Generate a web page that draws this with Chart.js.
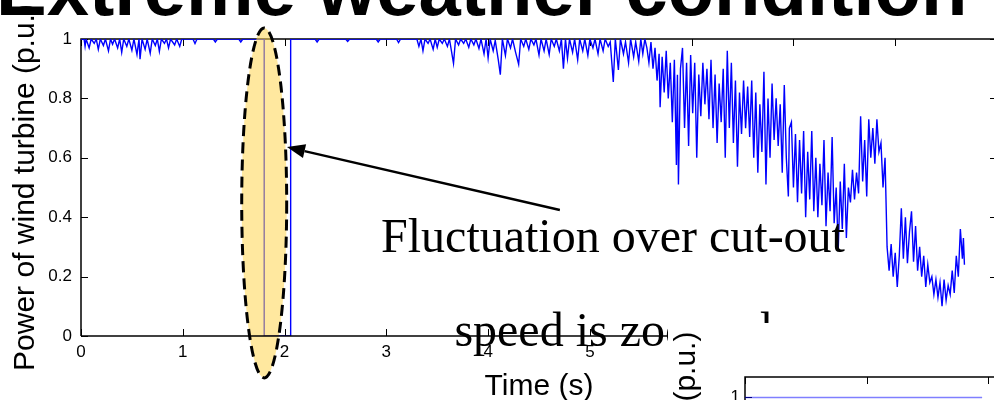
<!DOCTYPE html>
<html>
<head>
<meta charset="utf-8">
<script src="https://cdn.jsdelivr.net/npm/chart.js@4.4.1/dist/chart.umd.min.js"></script>
<style>
  html, body { margin: 0; padding: 0; background: #fff; }
  body { width: 994px; height: 400px; overflow: hidden; position: relative; }
  #mainBox { position: absolute; left: 0; top: 0; width: 1010px; height: 420px; }
  #insetBox { position: absolute; left: 668px; top: 323px; width: 400px; height: 400px; background: #fff; }
  .headline { position: absolute; left: -4px; top: -49px; white-space: nowrap; color: #000;
              font: bold 76px/1 "Liberation Sans", Arial, sans-serif; }
  .note { position: absolute; left: 313px; width: 600px; text-align: center; white-space: nowrap; color: #000;
          font: 48px/1 "Liberation Serif", "Times New Roman", serif; }
</style>
</head>
<body>
<div class="headline">Extreme weather condition</div>
<div id="mainBox"><canvas id="mainChart"></canvas></div>
<div class="note" style="top:212px">Fluctuation over cut-out</div>
<div class="note" style="top:306px">speed is zoomed</div>
<div id="insetBox"><canvas id="insetChart"></canvas></div>
<script>
// Wind turbine output power (p.u.) against time (s), as [time, power] samples.

// Rated output with short dips from gusts
const gustPhase = [
  [0, 1], [0.03, 1], [0.04, 0.975], [0.05, 1], [0.08, 0.97], [0.1, 1], [0.13, 0.985], [0.15, 1],
  [0.17, 0.965], [0.19, 1], [0.22, 0.978], [0.24, 1], [0.27, 0.96], [0.29, 1], [0.31, 0.982], [0.33, 1],
  [0.36, 0.97], [0.38, 1], [0.4, 0.955], [0.42, 1], [0.45, 0.975], [0.47, 1], [0.5, 0.962], [0.52, 1],
  [0.55, 0.948], [0.57, 1], [0.58, 0.932], [0.6, 1], [0.63, 0.965], [0.65, 1], [0.68, 0.952], [0.7, 1],
  [0.73, 0.978], [0.75, 1], [0.77, 0.958], [0.79, 1], [0.82, 0.985], [0.84, 1], [0.86, 0.97], [0.88, 1],
  [0.92, 0.98], [0.94, 1], [0.97, 0.975], [0.99, 1], [1.1, 1], [1.12, 0.985], [1.14, 1], [1.3, 1],
  [1.32, 0.99], [1.34, 1], [1.55, 1], [1.57, 0.99], [1.59, 1], [1.8, 1]
];

// Shutdown above cut-out speed and restart
const tripPhase = [[1.8, 1], [1.8, 0], [2.06, 0], [2.06, 1]];

// Back at rated output
const recoveryPhase = [
  [2.06, 1], [2.3, 1], [2.32, 0.99], [2.34, 1], [2.6, 1], [2.62, 0.992], [2.64, 1], [2.9, 1],
  [2.92, 0.99], [2.94, 1], [3.1, 1], [3.12, 0.988], [3.14, 1], [3.3, 1]
];

// Dips grow deeper as the wind picks up
const buildUpPhase = [
  [3.32, 0.975], [3.34, 1], [3.36, 0.96], [3.38, 1], [3.41, 0.985], [3.43, 1], [3.46, 0.965], [3.48, 1],
  [3.5, 0.972], [3.52, 1], [3.55, 0.985], [3.57, 1], [3.6, 0.975], [3.62, 1], [3.66, 0.918], [3.68, 1],
  [3.71, 0.98], [3.73, 1], [3.76, 0.985], [3.78, 1], [3.81, 0.972], [3.83, 1], [3.86, 0.98], [3.88, 1],
  [3.91, 0.968], [3.93, 1], [3.96, 0.95], [3.98, 1], [4.0, 0.936], [4.02, 1], [4.05, 0.96], [4.07, 0.995],
  [4.1, 0.93], [4.12, 0.88], [4.14, 1], [4.17, 0.945], [4.19, 1], [4.22, 0.97], [4.24, 1], [4.27, 0.955],
  [4.3, 0.915], [4.32, 1], [4.35, 0.975], [4.37, 1], [4.4, 0.965], [4.42, 1], [4.45, 0.98], [4.47, 1],
  [4.5, 0.946], [4.52, 1], [4.55, 0.96], [4.57, 1], [4.6, 0.948], [4.62, 1], [4.65, 0.975], [4.67, 1],
  [4.7, 0.96], [4.72, 1], [4.74, 0.9], [4.76, 1], [4.78, 0.935], [4.8, 1], [4.83, 0.955], [4.85, 1],
  [4.88, 0.93], [4.9, 1], [4.93, 0.96], [4.95, 1], [4.98, 0.945], [5.0, 1], [5.03, 0.97], [5.05, 1],
  [5.08, 0.95], [5.1, 1], [5.13, 0.96], [5.15, 1], [5.18, 0.975], [5.2, 0.99], [5.23, 0.855], [5.25, 1],
  [5.28, 0.896], [5.3, 1], [5.33, 0.95], [5.35, 0.99], [5.38, 0.92], [5.4, 1], [5.43, 0.94], [5.45, 0.99],
  [5.48, 0.925], [5.5, 1], [5.52, 0.95], [5.54, 1]
];

// Strongly fluctuating, falling output
const declinePhase = [
  [5.56, 0.97], [5.58, 0.92], [5.6, 0.99], [5.62, 0.9], [5.64, 0.97], [5.66, 0.86], [5.68, 0.95], [5.69, 0.77],
  [5.71, 0.94], [5.73, 0.82], [5.75, 0.96], [5.77, 0.8], [5.79, 0.92], [5.81, 0.72], [5.83, 0.93], [5.85, 0.576],
  [5.86, 0.88], [5.87, 0.51], [5.89, 0.9], [5.91, 0.97], [5.93, 0.7], [5.95, 0.92], [5.97, 0.64], [5.99, 0.946],
  [6.01, 0.75], [6.03, 0.92], [6.05, 0.6], [6.07, 0.88], [6.09, 0.74], [6.11, 0.92], [6.13, 0.78], [6.15, 0.9],
  [6.17, 0.73], [6.19, 0.93], [6.21, 0.7], [6.23, 0.88], [6.25, 0.65], [6.27, 0.85], [6.29, 0.72], [6.31, 0.9],
  [6.33, 0.6], [6.35, 0.96], [6.37, 0.7], [6.39, 0.92], [6.41, 0.65], [6.43, 0.86], [6.45, 0.57], [6.47, 0.82],
  [6.49, 0.68], [6.51, 0.86], [6.53, 0.7], [6.55, 0.84], [6.57, 0.67], [6.59, 0.86], [6.61, 0.6], [6.63, 0.82],
  [6.65, 0.55], [6.67, 0.78], [6.69, 0.62], [6.71, 0.89], [6.73, 0.51], [6.75, 0.8], [6.77, 0.6], [6.79, 0.85],
  [6.81, 0.66], [6.83, 0.8], [6.85, 0.64], [6.87, 0.78], [6.89, 0.55], [6.91, 0.845], [6.93, 0.6], [6.95, 0.47],
  [6.96, 0.7], [6.98, 0.72], [7.0, 0.5], [7.02, 0.68], [7.04, 0.45], [7.06, 0.66], [7.08, 0.48], [7.1, 0.69],
  [7.12, 0.4], [7.14, 0.62], [7.16, 0.46], [7.18, 0.69], [7.2, 0.42], [7.22, 0.6], [7.24, 0.4], [7.26, 0.58],
  [7.28, 0.44], [7.3, 0.66], [7.32, 0.37], [7.34, 0.55], [7.36, 0.42], [7.38, 0.67], [7.4, 0.38], [7.42, 0.5],
  [7.44, 0.29], [7.46, 0.52], [7.48, 0.36], [7.5, 0.58], [7.52, 0.33], [7.54, 0.5], [7.56, 0.45], [7.58, 0.56],
  [7.6, 0.46], [7.62, 0.55], [7.64, 0.48], [7.66, 0.74], [7.68, 0.52], [7.7, 0.66], [7.72, 0.47], [7.74, 0.73],
  [7.76, 0.6], [7.78, 0.7], [7.8, 0.58], [7.82, 0.73], [7.84, 0.62], [7.86, 0.65], [7.88, 0.5], [7.9, 0.6],
  [7.92, 0.3], [7.94, 0.22], [7.96, 0.31], [7.98, 0.2], [8.0, 0.28], [8.02, 0.165], [8.04, 0.27], [8.06, 0.43],
  [8.08, 0.26], [8.1, 0.4], [8.12, 0.245], [8.14, 0.35], [8.16, 0.42], [8.18, 0.25], [8.2, 0.37], [8.22, 0.22],
  [8.24, 0.3], [8.26, 0.2], [8.28, 0.27], [8.3, 0.165], [8.32, 0.24], [8.34, 0.18], [8.36, 0.2], [8.38, 0.14],
  [8.4, 0.19], [8.42, 0.13], [8.44, 0.18], [8.46, 0.1], [8.48, 0.19], [8.5, 0.12], [8.52, 0.17], [8.54, 0.14],
  [8.56, 0.22], [8.58, 0.145], [8.6, 0.27], [8.62, 0.2], [8.64, 0.36], [8.66, 0.26], [8.67, 0.33], [8.68, 0.24]
];

// Zoomed view: output held at rated power
const zoomedTime = [0, 1.95];
const zoomedPower = [1, 1];

const axisTitle = 'Power of wind turbine (p.u.)';
const timeTitle = 'Time (s)';

// Callout around the cut-out event, placed in axis units
const ellipseCentre = { t: 1.8, p: 0.448 };
const ellipseHalfSpan = { t: 0.221, p: 0.589 };
const arrowTail = { t: 4.705, p: 0.424 };
const arrowTip = { t: 2.024, p: 0.636 };

const toPoints = pairs => pairs.map(([t, p]) => ({ x: t, y: p }));
const powerSeries = toPoints([
  ...gustPhase, ...tripPhase, ...recoveryPhase, ...buildUpPhase, ...declinePhase
]);

const SANS = '"Liberation Sans", Arial, sans-serif';
// MATLAB-like tick text: 1 rather than 1.0
const plainNumber = v => String(Math.round(v * 100) / 100);

// MATLAB-style frame: full box with inward ticks on all four sides
const matlabBox = {
  id: 'matlabBox',
  beforeDatasetsDraw(chart) {
    const { ctx, chartArea: a, scales: { x, y } } = chart;
    const len = 7;
    ctx.save();
    ctx.strokeStyle = '#000';
    ctx.lineWidth = 1;
    ctx.beginPath();
    x.ticks.forEach(t => {
      const px = Math.round(x.getPixelForValue(t.value)) + 0.5;
      ctx.moveTo(px, a.bottom); ctx.lineTo(px, a.bottom - len);
      ctx.moveTo(px, a.top); ctx.lineTo(px, a.top + len);
    });
    y.ticks.forEach(t => {
      const py = Math.round(y.getPixelForValue(t.value)) + 0.5;
      ctx.moveTo(a.left, py); ctx.lineTo(a.left + len, py);
      ctx.moveTo(a.right, py); ctx.lineTo(a.right - len, py);
    });
    ctx.stroke();
    ctx.lineWidth = 1.5;
    ctx.beginPath();
    ctx.moveTo(a.left, a.bottom);
    ctx.lineTo(a.left, a.top);
    ctx.lineTo(a.right, a.top);
    ctx.lineTo(a.right, a.bottom);
    ctx.stroke();
    ctx.restore();
  },
  afterDatasetsDraw(chart) {
    const { ctx, chartArea: a } = chart;
    ctx.save();
    ctx.strokeStyle = '#000';
    ctx.lineWidth = 1.5;
    ctx.beginPath();
    ctx.moveTo(a.left, a.bottom);
    ctx.lineTo(a.right, a.bottom);
    ctx.stroke();
    ctx.restore();
  }
};

// Highlight ellipse and arrow pointing at it
function ellipsePath(chart) {
  const { ctx, scales: { x, y } } = chart;
  const cx = x.getPixelForValue(ellipseCentre.t);
  const cy = y.getPixelForValue(ellipseCentre.p);
  const rx = x.getPixelForValue(ellipseCentre.t + ellipseHalfSpan.t) - cx;
  const ry = cy - y.getPixelForValue(ellipseCentre.p + ellipseHalfSpan.p);
  ctx.beginPath();
  ctx.ellipse(cx, cy, rx, ry, 0, 0, Math.PI * 2);
}
const callout = {
  id: 'callout',
  afterDatasetsDraw(chart) {
    const { ctx } = chart;
    ctx.save();
    ellipsePath(chart);
    ctx.fillStyle = 'rgba(255, 214, 80, 0.55)';
    ctx.fill();
    ctx.restore();
  },
  afterDraw(chart) {
    const { ctx, scales: { x, y } } = chart;
    ctx.save();
    ellipsePath(chart);
    ctx.setLineDash([11, 6]);
    ctx.lineWidth = 3;
    ctx.strokeStyle = '#000';
    ctx.stroke();
    ctx.setLineDash([]);

    const tx = x.getPixelForValue(arrowTail.t), ty = y.getPixelForValue(arrowTail.p);
    const hx = x.getPixelForValue(arrowTip.t), hy = y.getPixelForValue(arrowTip.p);
    const ang = Math.atan2(hy - ty, hx - tx);
    const head = 18, half = 7;
    const bx = hx - head * Math.cos(ang), by = hy - head * Math.sin(ang);
    ctx.lineWidth = 2.5;
    ctx.beginPath();
    ctx.moveTo(tx, ty);
    ctx.lineTo(bx, by);
    ctx.stroke();
    ctx.fillStyle = '#000';
    ctx.beginPath();
    ctx.moveTo(hx, hy);
    ctx.lineTo(bx + half * Math.sin(ang), by - half * Math.cos(ang));
    ctx.lineTo(bx - half * Math.sin(ang), by + half * Math.cos(ang));
    ctx.closePath();
    ctx.fill();
    ctx.restore();
  }
};

new Chart(document.getElementById('mainChart'), {
  type: 'line',
  data: {
    datasets: [{
      data: powerSeries,
      borderColor: '#0000ff',
      borderWidth: 1.4,
      pointRadius: 0,
      tension: 0,
      fill: false
    }]
  },
  options: {
    responsive: true,
    maintainAspectRatio: false,
    animation: false,
    events: [],
    layout: { padding: { top: 39, right: 13, bottom: 0, left: 0 } },
    plugins: { legend: { display: false }, tooltip: { enabled: false } },
    scales: {
      x: {
        type: 'linear', min: 0, max: 9,
        grid: { display: false, drawTicks: false, tickLength: 0 },
        border: { display: false },
        ticks: { stepSize: 1, padding: 6, color: '#000', font: { family: SANS, size: 17 }, callback: plainNumber },
        title: { display: true, text: timeTitle, color: '#000', font: { family: SANS, size: 30 },
                 padding: { top: 0, bottom: 15 } },
        afterFit(scale) { scale.height = 84; }
      },
      y: {
        type: 'linear', min: 0, max: 1,
        grid: { display: false, drawTicks: false, tickLength: 0 },
        border: { display: false },
        ticks: { stepSize: 0.2, padding: 9, color: '#000', font: { family: SANS, size: 17 }, callback: plainNumber },
        title: { display: true, text: axisTitle, color: '#000', font: { family: SANS, size: 30 },
                 padding: { top: 8, bottom: 0 } },
        afterFit(scale) { scale.width = 81; }
      }
    }
  },
  plugins: [callout, matlabBox]
});

new Chart(document.getElementById('insetChart'), {
  type: 'line',
  data: {
    datasets: [{
      data: zoomedTime.map((t, i) => ({ x: t, y: zoomedPower[i] })),
      borderColor: 'rgba(0, 0, 255, 0.5)',
      borderWidth: 1.5,
      pointRadius: 0,
      tension: 0,
      fill: false
    }]
  },
  options: {
    responsive: true,
    maintainAspectRatio: false,
    animation: false,
    events: [],
    layout: { padding: { top: 54, right: 19, bottom: 0, left: 0 } },
    plugins: { legend: { display: false }, tooltip: { enabled: false } },
    scales: {
      x: {
        type: 'linear', min: 0, max: 2.5,
        grid: { display: false, drawTicks: false, tickLength: 0 },
        border: { display: false },
        ticks: { stepSize: 1, padding: 6, color: '#000', font: { family: SANS, size: 17 }, callback: plainNumber },
        title: { display: true, text: timeTitle, color: '#000', font: { family: SANS, size: 30 } },
        afterFit(scale) { scale.height = 70; }
      },
      y: {
        type: 'linear', min: 0, max: 1.08,
        grid: { display: false, drawTicks: false, tickLength: 0 },
        border: { display: false },
        ticks: { stepSize: 0.2, padding: 5, color: '#000', font: { family: SANS, size: 17 }, callback: plainNumber },
        afterBuildTicks(scale) {
          scale.ticks = scale.ticks.filter(t => Math.abs(t.value * 5 - Math.round(t.value * 5)) < 1e-6);
        },
        title: { display: true, text: axisTitle, color: '#000', font: { family: SANS, size: 30 },
                 padding: { top: 1, bottom: 0 } },
        afterFit(scale) { scale.width = 77; }
      }
    }
  },
  plugins: [matlabBox]
});
</script>
</body>
</html>
